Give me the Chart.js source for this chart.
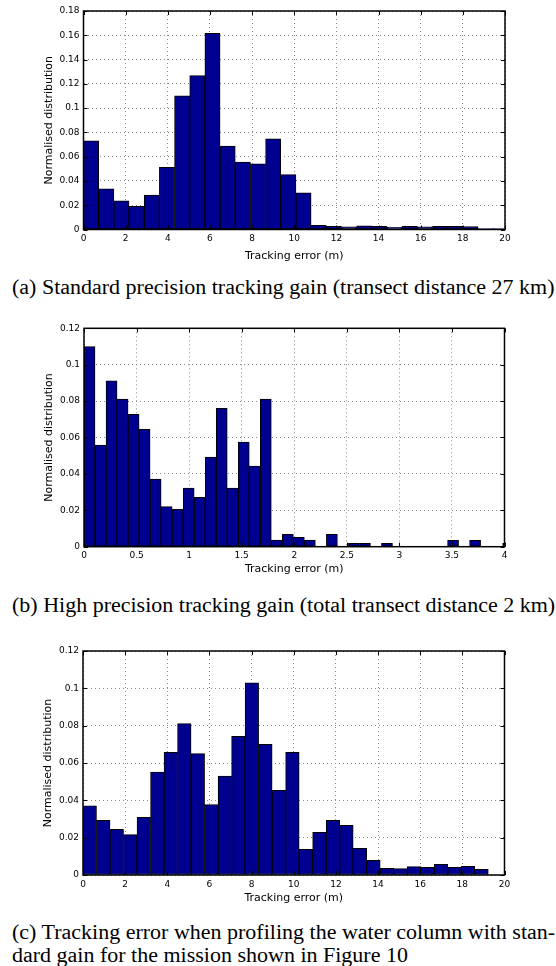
<!DOCTYPE html>
<html>
<head>
<meta charset="utf-8">
<script src="https://cdn.jsdelivr.net/npm/chart.js@4.4.1/dist/chart.umd.min.js"></script>
<style>
  html, body { margin: 0; padding: 0; background: #fff; }
  body { position: relative; width: 556px; height: 966px; overflow: hidden; }
  canvas { position: absolute; left: 0; }
  /* the captions in the figure are set slightly wide, hence the scaleX */
  .cap { position: absolute; left: 12px; width: 492px; font-family: "Liberation Serif", "Times New Roman", serif; font-size: 20px; line-height: 22px; color: #000; white-space: nowrap; transform: scaleX(1.1); transform-origin: 0 0; }
  .just { text-align: justify; text-align-last: justify; }
</style>
</head>
<body>
<canvas id="chartA" width="556" height="270" style="top:0px"></canvas>
<div class="cap" style="top:276px">(a) Standard precision tracking gain (transect distance 27 km)</div>
<canvas id="chartB" width="556" height="270" style="top:310px"></canvas>
<div class="cap" style="top:594px">(b) High precision tracking gain (total transect distance 2 km)</div>
<canvas id="chartC" width="556" height="285" style="top:630px"></canvas>
<div class="cap just" style="top:921px">(c) Tracking error when profiling the water column with stan-</div>
<div class="cap" style="top:944px">dard gain for the mission shown in Figure 10</div>
<script>
// (a) standard precision tracking gain, 0.72 m bins
const binA = 0.72;
const distA = [0.0731, 0.0336, 0.0237, 0.0191, 0.0284, 0.0512, 0.1102, 0.1267, 0.1616, 0.0688,
               0.0556, 0.0542, 0.0746, 0.0452, 0.0303, 0.0035, 0.0026, 0.0021, 0.0031, 0.0026,
               0.0018, 0.0026, 0.0021, 0.0026, 0.0026, 0.0024, 0.0008, 0.0008];
const xTicksA = [0, 2, 4, 6, 8, 10, 12, 14, 16, 18, 20];
const yTicksA = [0, 0.02, 0.04, 0.06, 0.08, 0.1, 0.12, 0.14, 0.16, 0.18];

// (b) high precision tracking gain, ~0.105 m bins
const binB = 0.1048;
const distB = [0.1099, 0.0559, 0.0912, 0.0811, 0.0727, 0.0645, 0.0372, 0.0220, 0.0205, 0.0322,
               0.0271, 0.0493, 0.0760, 0.0322, 0.0575, 0.0443, 0.0811, 0.0037, 0.0068, 0.0051,
               0.0037, 0, 0.0068, 0, 0.0018, 0.0018, 0, 0.0018, 0, 0,
               0, 0, 0, 0.0035, 0, 0.0035, 0, 0, 0.0018];
const xTicksB = [0, 0.5, 1, 1.5, 2, 2.5, 3, 3.5, 4];
const yTicksB = [0, 0.02, 0.04, 0.06, 0.08, 0.1, 0.12];

// (c) profiling the water column, ~0.64 m bins
const binC = 0.641;
const distC = [0.0370, 0.0293, 0.0245, 0.0216, 0.0309, 0.0552, 0.0657, 0.0811, 0.0650, 0.0377,
               0.0530, 0.0743, 0.1029, 0.0700, 0.0454, 0.0657, 0.0137, 0.0229, 0.0293, 0.0266,
               0.0143, 0.0079, 0.0036, 0.0034, 0.0045, 0.0041, 0.0057, 0.0041, 0.0046, 0.0030];
const xTicksC = [0, 2, 4, 6, 8, 10, 12, 14, 16, 18, 20];
const yTicksC = [0, 0.02, 0.04, 0.06, 0.08, 0.1, 0.12];

const tickFont = { family: 'DejaVu Sans', size: 9 };
const titleFont = { family: 'DejaVu Sans', size: 11 };
const fmt = v => String(+Number(v).toFixed(3));

// matlab style box with inward ticks
const boxFrame = {
  id: 'boxFrame',
  afterDraw(chart) {
    const { ctx, chartArea: a, scales: { x, y } } = chart;
    ctx.save();
    ctx.strokeStyle = '#000';
    ctx.lineWidth = 1;
    ctx.beginPath();
    for (const t of x.ticks) {
      const px = Math.round(x.getPixelForValue(t.value)) + 0.5;
      ctx.moveTo(px, a.bottom); ctx.lineTo(px, a.bottom - 4);
      ctx.moveTo(px, a.top); ctx.lineTo(px, a.top + 4);
    }
    for (const t of y.ticks) {
      const py = Math.round(y.getPixelForValue(t.value)) + 0.5;
      ctx.moveTo(a.left, py); ctx.lineTo(a.left + 4, py);
      ctx.moveTo(a.right, py); ctx.lineTo(a.right - 4, py);
    }
    ctx.stroke();
    ctx.lineWidth = 1.5;
    ctx.strokeRect(a.left, a.top, a.right - a.left, a.bottom - a.top);
    ctx.restore();
  }
};

function histogram(id, bin, values, xTicks, yTicks, box) {
  const canvas = document.getElementById(id);
  const H = canvas.height;
  return new Chart(canvas, {
    type: 'bar',
    data: {
      datasets: [{
        data: values.map((v, i) => ({ x: (i + 0.5) * bin, y: v })),
        backgroundColor: '#000090',
        borderColor: '#000',
        borderWidth: 1,
        borderSkipped: false,
        barPercentage: 1,
        categoryPercentage: 1,
        clip: 0,
      }],
    },
    options: {
      responsive: false,
      animation: false,
      events: [],
      layout: { padding: { left: 0, top: box.top, right: 556 - box.right, bottom: 0 } },
      plugins: { legend: { display: false }, tooltip: { enabled: false } },
      scales: {
        x: {
          type: 'linear',
          offset: false,
          min: xTicks[0],
          max: xTicks[xTicks.length - 1],
          afterBuildTicks: s => { s.ticks = xTicks.map(v => ({ value: v })); },
          afterFit: s => { s.height = H - box.bottom; },
          ticks: { callback: fmt, font: tickFont, color: '#000', padding: 4, maxRotation: 0, autoSkip: false },
          grid: { color: '#8c8c8c', drawTicks: false, offset: false },
          border: { display: false, dash: [1, 3] },
          title: {
            display: true, text: 'Tracking error (m)', font: titleFont, color: '#000',
            padding: { top: 0, bottom: H - box.xTitle - 6.6 },
          },
        },
        y: {
          min: yTicks[0],
          max: yTicks[yTicks.length - 1],
          afterBuildTicks: s => { s.ticks = yTicks.map(v => ({ value: v })); },
          afterFit: s => { s.width = box.left; },
          ticks: { callback: fmt, font: tickFont, color: '#000', padding: 4, autoSkip: false },
          grid: { color: '#8c8c8c', drawTicks: false },
          border: { display: false, dash: [1, 3] },
          title: {
            display: true, text: 'Normalised distribution', font: titleFont, color: '#000',
            padding: { top: box.yTitle - 6.6, bottom: 0 },
          },
        },
      },
    },
    plugins: [boxFrame],
  });
}

histogram('chartA', binA, distA, xTicksA, yTicksA,
  { left: 83.5, right: 505, top: 11, bottom: 229.5, xTitle: 256, yTitle: 49 });
histogram('chartB', binB, distB, xTicksB, yTicksB,
  { left: 84, right: 504.5, top: 18.3, bottom: 236.7, xTitle: 259, yTitle: 49 });
histogram('chartC', binC, distC, xTicksC, yTicksC,
  { left: 83, right: 504.5, top: 21, bottom: 245, xTitle: 268, yTitle: 48 });
</script>
</body>
</html>
